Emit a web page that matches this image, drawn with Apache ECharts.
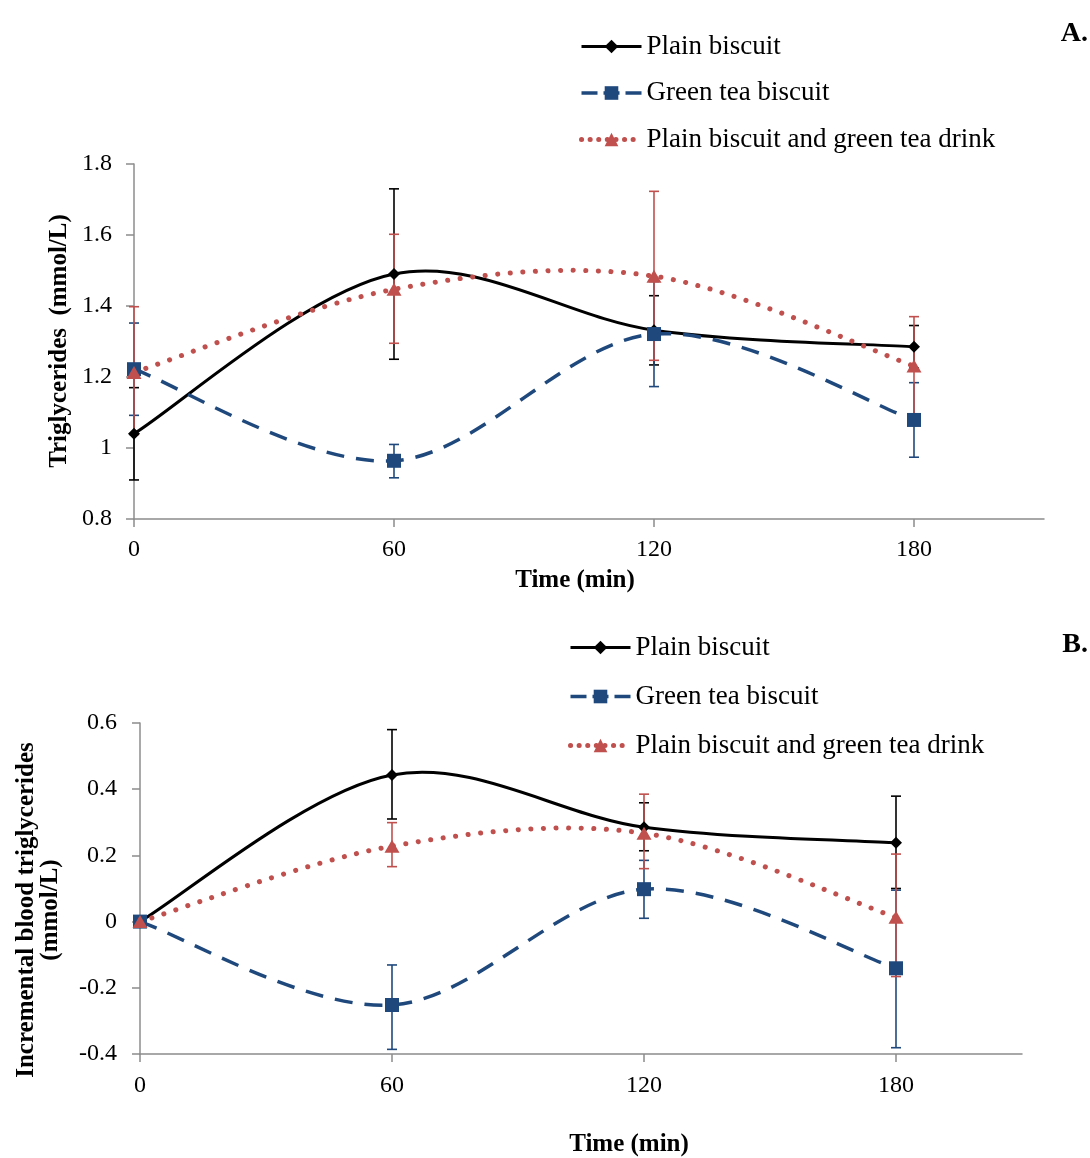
<!DOCTYPE html>
<html><head><meta charset="utf-8">
<script src="https://cdn.jsdelivr.net/npm/echarts@6/dist/echarts.min.js"></script>
<style>html,body{margin:0;padding:0;background:#fff}#c{width:1090px;height:1158px}</style>
</head><body><div id="c"></div>
<script>
// ---- data ----
const times = [0, 60, 120, 180];
const xTickValues = [0, 60, 120, 180];
const seriesNames = ['Plain biscuit', 'Green tea biscuit', 'Plain biscuit and green tea drink'];
const xTitle = 'Time (min)';
const aYTitle = 'Triglycerides  (mmol/L)';
const bYTitle = 'Incremental blood triglycerides\n(mmol/L)';

// Panel A: triglycerides (mmol/L), mean and error (up / down)
const aPlain = [1.04, 1.49, 1.332, 1.285];
const aPlainErrUp = [0.13, 0.24, 0.097, 0.06];
const aPlainErrDown = [0.13, 0.24, 0.098, 0.06];
const aGreen = [1.222, 0.964, 1.321, 1.079];
const aGreenErrUp = [0.13, 0.046, 0.148, 0.105];
const aGreenErrDown = [0.13, 0.048, 0.148, 0.105];
const aDrink = [1.213, 1.447, 1.484, 1.231];
const aDrinkErrUp = [0.185, 0.155, 0.239, 0.139];
const aDrinkErrDown = [0.175, 0.152, 0.237, 0.15];

// Panel B: incremental blood triglycerides (mmol/L)
const bPlain = [0, 0.443, 0.285, 0.238];
const bPlainErrUp = [0, 0.137, 0.074, 0.141];
const bPlainErrDown = [0, 0.133, 0.071, 0.138];
const bGreen = [0, -0.252, 0.098, -0.141];
const bGreenErrUp = [0, 0.121, 0.087, 0.236];
const bGreenErrDown = [0, 0.134, 0.088, 0.24];
const bDrink = [0, 0.228, 0.267, 0.013];
const bDrinkErrUp = [0, 0.071, 0.118, 0.191];
const bDrinkErrDown = [0, 0.062, 0.107, 0.179];

// ---- styles ----
const FONT = '"Liberation Serif", "Times New Roman", serif';
const BLACK = '#000000', BLUE = '#1F497D', RED = '#C0504D';
const AXIS_COLOR = '#8c8c8c';

function pairs(vals) { return times.map((t, i) => [t, vals[i]]); }
function errData(vals, up, down) {
  return times.map((t, i) => [t, vals[i] - down[i], vals[i] + up[i]]);
}
function errRender(color) {
  return function (params, api) {
    const x = api.value(0), lo = api.value(1), hi = api.value(2);
    if (hi - lo <= 0) return null;
    const pLo = api.coord([x, lo]), pHi = api.coord([x, hi]);
    const w = 5;
    const style = { stroke: color, lineWidth: 1.6 };
    return {
      type: 'group', children: [
        { type: 'line', shape: { x1: pLo[0], y1: pLo[1], x2: pHi[0], y2: pHi[1] }, style },
        { type: 'line', shape: { x1: pLo[0] - w, y1: pLo[1], x2: pLo[0] + w, y2: pLo[1] }, style },
        { type: 'line', shape: { x1: pHi[0] - w, y1: pHi[1], x2: pHi[0] + w, y2: pHi[1] }, style }
      ]
    };
  };
}
const lineDefs = [
  { color: BLACK, symbol: 'diamond', symbolSize: 12, width: 3, dash: null, cap: 'butt', legendDash: 'solid' },
  { color: BLUE, symbol: 'rect', symbolSize: 14, width: 3.5, dash: [18, 12], cap: 'butt', legendDash: [16, 6] },
  { color: RED, symbol: 'triangle', symbolSize: [15, 13], width: 5, dash: [0.1, 12.5], cap: 'round', legendDash: [0.1, 8.5] }
];
// Excel-style smoothed curve (cubic Bezier, tension 1/6) through the data points, via the axis scales
function smoothRender(vals, d) {
  return function (params, api) {
    if (params.dataIndex !== 0) return null;
    const pts = times.map((t, i) => api.coord([t, vals[i]]));
    const n = pts.length;
    let path = 'M' + pts[0][0] + ' ' + pts[0][1];
    for (let i = 0; i < n - 1; i++) {
      const p0 = pts[Math.max(i - 1, 0)], p1 = pts[i], p2 = pts[i + 1], p3 = pts[Math.min(i + 2, n - 1)];
      const c1x = p1[0] + (p2[0] - p0[0]) / 6, c1y = p1[1] + (p2[1] - p0[1]) / 6;
      const c2x = p2[0] - (p3[0] - p1[0]) / 6, c2y = p2[1] - (p3[1] - p1[1]) / 6;
      path += ' C' + c1x + ' ' + c1y + ' ' + c2x + ' ' + c2y + ' ' + p2[0] + ' ' + p2[1];
    }
    const style = { fill: 'none', stroke: d.color, lineWidth: d.width, lineCap: d.cap, lineJoin: 'round' };
    if (d.dash) style.lineDash = d.dash;
    return { type: 'path', shape: { pathData: path }, style };
  };
}
function curveSeries(idx, vals, axisIdx) {
  return {
    type: 'custom', xAxisIndex: axisIdx, yAxisIndex: axisIdx, silent: true, z: 3,
    data: pairs(vals), encode: { x: 0, y: 1 }, renderItem: smoothRender(vals, lineDefs[idx]), animation: false
  };
}
function markerSeries(idx, vals, axisIdx) {
  const d = lineDefs[idx];
  const ls = { color: d.color, width: d.width, type: d.dash || 'solid', cap: d.cap, opacity: 0 };
  return {
    type: 'line', name: seriesNames[idx], xAxisIndex: axisIdx, yAxisIndex: axisIdx,
    data: pairs(vals), symbol: d.symbol, symbolSize: d.symbolSize,
    itemStyle: { color: d.color }, lineStyle: ls, z: 4, animation: false, silent: true
  };
}
function errSeries(color, vals, up, down, axisIdx) {
  return {
    type: 'custom', xAxisIndex: axisIdx, yAxisIndex: axisIdx, silent: true, z: 2,
    data: errData(vals, up, down), encode: { x: 0, y: [1, 2] }, renderItem: errRender(color), animation: false
  };
}
function xAxisDef(gridIndex, margin) {
  return {
    type: 'value', gridIndex, min: 0, max: 210, interval: 60,
    axisLine: { onZero: false, lineStyle: { color: AXIS_COLOR, width: 1.5 } },
    axisTick: { show: true, length: 8, customValues: xTickValues, lineStyle: { color: AXIS_COLOR, width: 1.5 } },
    axisLabel: { customValues: xTickValues, margin, color: '#000', fontFamily: FONT, fontSize: 24 },
    splitLine: { show: false }
  };
}
function yAxisDef(gridIndex, min, max, margin) {
  return {
    type: 'value', gridIndex, min, max, interval: 0.2,
    axisLine: { show: true, onZero: false, lineStyle: { color: AXIS_COLOR, width: 1.5 } },
    axisTick: { show: true, length: 8, lineStyle: { color: AXIS_COLOR, width: 1.5 } },
    axisLabel: { margin, color: '#000', fontFamily: FONT, fontSize: 24 },
    splitLine: { show: false }
  };
}
function legendDef(left, top, gap) {
  return {
    data: seriesNames.map((name, i) => ({
      name,
      lineStyle: { width: lineDefs[i].width, type: lineDefs[i].legendDash, cap: lineDefs[i].cap, opacity: 1, color: lineDefs[i].color }
    })),
    orient: 'vertical', left, top, itemWidth: 60, itemHeight: 17, itemGap: gap,
    selectedMode: false,
    lineStyle: { opacity: 1 },
    textStyle: { fontFamily: FONT, fontSize: 27, color: '#000', lineHeight: 24 }
  };
}
const titleStyle = { fontFamily: FONT, fontSize: 25, fontWeight: 'bold', fill: '#000' };

const chart = echarts.init(document.getElementById('c'), null, { renderer: 'canvas' });
chart.setOption({
  animation: false,
  backgroundColor: '#ffffff',
  grid: [
    { left: 134, right: 46, top: 164, bottom: 639, containLabel: false },
    { left: 140, right: 68, top: 723, bottom: 104, containLabel: false }
  ],
  xAxis: [xAxisDef(0, 19), xAxisDef(1, 20)],
  yAxis: [yAxisDef(0, 0.8, 1.8, 22), yAxisDef(1, -0.4, 0.6, 23)],
  legend: [legendDef(574, 28, 19.5), legendDef(563, 629, 22)],
  series: [
    errSeries(BLACK, aPlain, aPlainErrUp, aPlainErrDown, 0),
    errSeries(BLUE, aGreen, aGreenErrUp, aGreenErrDown, 0),
    errSeries(RED, aDrink, aDrinkErrUp, aDrinkErrDown, 0),
    curveSeries(0, aPlain, 0),
    curveSeries(1, aGreen, 0),
    curveSeries(2, aDrink, 0),
    markerSeries(0, aPlain, 0),
    markerSeries(1, aGreen, 0),
    markerSeries(2, aDrink, 0),
    errSeries(BLACK, bPlain, bPlainErrUp, bPlainErrDown, 1),
    errSeries(BLUE, bGreen, bGreenErrUp, bGreenErrDown, 1),
    errSeries(RED, bDrink, bDrinkErrUp, bDrinkErrDown, 1),
    curveSeries(0, bPlain, 1),
    curveSeries(1, bGreen, 1),
    curveSeries(2, bDrink, 1),
    markerSeries(0, bPlain, 1),
    markerSeries(1, bGreen, 1),
    markerSeries(2, bDrink, 1)
  ],
  graphic: [
    { type: 'text', x: 1088, y: 34, style: { text: 'A.', fontFamily: FONT, fontSize: 28, fontWeight: 'bold', fill: '#000', textAlign: 'right', textVerticalAlign: 'middle' } },
    { type: 'text', x: 1088, y: 645, style: { text: 'B.', fontFamily: FONT, fontSize: 28, fontWeight: 'bold', fill: '#000', textAlign: 'right', textVerticalAlign: 'middle' } },
    { type: 'text', x: 575, y: 581, style: Object.assign({ text: xTitle, textAlign: 'center', textVerticalAlign: 'middle' }, titleStyle) },
    { type: 'text', x: 629, y: 1145, style: Object.assign({ text: xTitle, textAlign: 'center', textVerticalAlign: 'middle' }, titleStyle) },
    { type: 'text', x: 60, y: 341, rotation: Math.PI / 2, style: Object.assign({ text: aYTitle, textAlign: 'center', textVerticalAlign: 'middle' }, titleStyle) },
    { type: 'text', x: 39, y: 910, rotation: Math.PI / 2, style: Object.assign({ text: bYTitle, textAlign: 'center', textVerticalAlign: 'middle', lineHeight: 24 }, titleStyle) }
  ]
});
</script>
</body></html>
